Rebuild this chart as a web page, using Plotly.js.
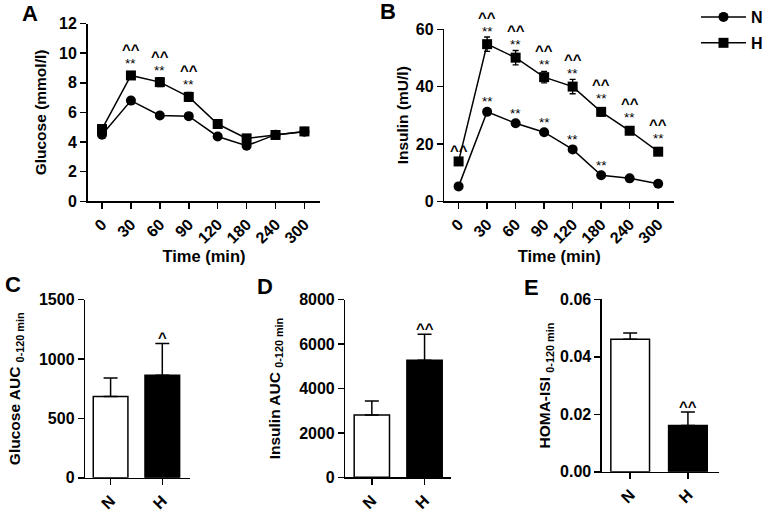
<!DOCTYPE html>
<html>
<head>
<meta charset="utf-8">
<script src="https://cdn.plot.ly/plotly-3.0.1.min.js"></script>
<style>html,body{margin:0;padding:0;background:#fff}#chart{width:768px;height:513px}</style>
</head>
<body>
<div id="chart"></div>
<script>
// ---- data ----
const times = ['0', '30', '60', '90', '120', '180', '240', '300'];
const glucoseN = [4.5, 6.8, 5.8, 5.75, 4.38, 3.75, 4.5, 4.7];
const glucoseH = [4.88, 8.5, 8.05, 7.05, 5.22, 4.25, 4.48, 4.72];
const glucoseNErr = [0.15, 0.2, 0.2, 0.2, 0.15, 0.15, 0.15, 0.15];
const glucoseHErr = [0.2, 0.25, 0.3, 0.3, 0.2, 0.2, 0.15, 0.15];
const insulinN = [5.2, 31.2, 27.2, 24.1, 18.1, 9.1, 8.0, 6.1];
const insulinH = [13.9, 54.8, 50.1, 43.3, 40.0, 31.2, 24.6, 17.3];
const insulinNErr = [0.6, 1, 1, 1, 1, 0.8, 0.6, 0.5];
const insulinHErr = [1.2, 2.5, 2.5, 2, 2.5, 1.5, 1, 1];
const glucoseStarsH = ['', '**', '**', '**', '', '', '', ''];
const glucoseCaretsH = ['', '^^', '^^', '^^', '', '', '', ''];
const insulinStarsN = ['', '**', '**', '**', '**', '**', '', ''];
const insulinStarsH = ['', '**', '**', '**', '**', '**', '**', '**'];
const insulinCaretsH = ['^^', '^^', '^^', '^^', '^^', '^^', '^^', '^^'];
const groups = ['N', 'H'];
const glucoseAUC = [684, 863];
const glucoseAUCErr = [157, 267];
const glucoseAUCMarks = ['', '^'];
const insulinAUC = [2813, 5272];
const insulinAUCErr = [630, 1168];
const insulinAUCMarks = ['', '^^'];
const homaISI = [0.0461, 0.0161];
const homaISIErr = [0.0022, 0.0047];
const homaISIMarks = ['', '^^'];

// ---- styling ----
const FONT = 'Liberation Sans, Arial, sans-serif';
const tickFont = {family: FONT, size: 16, color: '#000', weight: 'bold'};
const titleFont = {family: FONT, size: 15.5, color: '#000', weight: 'bold'};
const xTitleFont = {family: FONT, size: 16.5, color: '#000', weight: 'bold'};

function lineTrace(y, err, sym, name, xa, ya, legend, showleg) {
  return {
    type: 'scatter', mode: 'lines+markers', x: times, y: y, name: name,
    xaxis: xa, yaxis: ya, legend: legend, showlegend: showleg,
    line: {color: '#000', width: 1.5},
    marker: {symbol: sym, size: 10, color: '#000'},
    error_y: {type: 'data', array: err, visible: true, color: '#000', thickness: 1.3, width: 3},
    cliponaxis: false
  };
}
function barTrace(y, err, xa, ya) {
  return {
    type: 'bar', x: groups, y: y, xaxis: xa, yaxis: ya, showlegend: false, width: 0.67,
    marker: {color: ['#fff', '#000'], line: {color: '#000', width: 1.5}},
    error_y: {type: 'data', symmetric: false, array: err, arrayminus: [0, 0], visible: true,
              color: '#000', thickness: 1.5, width: 7}
  };
}

const traces = [
  lineTrace(glucoseN, glucoseNErr, 'circle', 'N', 'x', 'y', 'legend', false),
  lineTrace(glucoseH, glucoseHErr, 'square', 'H', 'x', 'y', 'legend2', false),
  lineTrace(insulinN, insulinNErr, 'circle', 'N', 'x2', 'y2', 'legend', true),
  lineTrace(insulinH, insulinHErr, 'square', 'H', 'x2', 'y2', 'legend2', true),
  barTrace(glucoseAUC, glucoseAUCErr, 'x3', 'y3'),
  barTrace(insulinAUC, insulinAUCErr, 'x4', 'y4'),
  barTrace(homaISI, homaISIErr, 'x5', 'y5')
];

function xAxis(domain, range, anchor, angle, title) {
  const a = {
    domain: domain, range: range, anchor: anchor, type: 'category',
    showline: true, linecolor: '#000', linewidth: 1.5, showgrid: false, zeroline: false,
    ticks: 'outside', ticklen: 6, tickwidth: 1.5, tickcolor: '#000',
    tickangle: angle, tickfont: tickFont, fixedrange: true
  };
  if (title) a.title = {text: title, font: xTitleFont, standoff: 4};
  return a;
}
function yAxis(domain, range, dtick, anchor, title, standoff, fmt) {
  const a = {
    domain: domain, range: range, dtick: dtick, tick0: 0, anchor: anchor,
    showline: true, linecolor: '#000', linewidth: 1.5, showgrid: false, zeroline: false,
    ticks: 'outside', ticklen: 6, tickwidth: 1.5, tickcolor: '#000',
    tickfont: tickFont, title: {text: title, font: titleFont, standoff: standoff}, fixedrange: true
  };
  if (fmt) a.tickformat = fmt;
  return a;
}

const annotations = [];
// x positions given as category index so numeric-looking labels are not misread
function marks(labels, ys, xref, yref, shift, size, bold) {
  labels.forEach((t, i) => {
    if (!t) return;
    annotations.push({
      text: t, x: i, y: ys[i], xref: xref, yref: yref, showarrow: false,
      yanchor: 'middle', yshift: typeof shift === 'function' ? shift(i) : shift,
      font: {family: FONT, size: size, color: '#000', weight: bold ? 'bold' : 'normal'}
    });
  });
}
marks(glucoseStarsH, glucoseH, 'x', 'y', 12, 13.5, false);
marks(glucoseCaretsH, glucoseH, 'x', 'y', 26, 15, true);
marks(insulinStarsN, insulinN, 'x2', 'y2', 10, 13.5, false);
marks(insulinStarsH, insulinH, 'x2', 'y2', 13, 13.5, false);
marks(insulinCaretsH, insulinH, 'x2', 'y2', i => insulinStarsH[i] ? 27 : 11, 15, true);
const aucTop = (v, e) => v.map((x, i) => x + e[i]);
marks(glucoseAUCMarks, aucTop(glucoseAUC, glucoseAUCErr), 'x3', 'y3', 6, 15, true);
marks(insulinAUCMarks, aucTop(insulinAUC, insulinAUCErr), 'x4', 'y4', 6, 15, true);
marks(homaISIMarks, aucTop(homaISI, homaISIErr), 'x5', 'y5', 6, 15, true);

// panel letters
[['A', 30, 13], ['B', 390, 11], ['C', 13, 284], ['D', 266, 286], ['E', 534, 287]].forEach(p => {
  annotations.push({text: p[0], x: p[1] / 768, y: 1 - p[2] / 513, xref: 'paper', yref: 'paper',
    showarrow: false, xanchor: 'center', yanchor: 'middle',
    font: {family: FONT, size: 22, color: '#000', weight: 'bold'}});
});

const legendBase = {
  xanchor: 'left', yanchor: 'middle', bgcolor: 'rgba(0,0,0,0)', borderwidth: 0,
  itemwidth: 45,
  font: {family: FONT, size: 16, color: '#000', weight: 'bold'}
};

const layout = {
  width: 768, height: 513, margin: {l: 0, r: 0, t: 0, b: 0},
  paper_bgcolor: '#fff', plot_bgcolor: '#fff', font: {family: FONT, color: '#000'},
  xaxis: xAxis([0.1146, 0.4193], [-0.5, 7.55], 'y', -45, 'Time (min)'),
  yaxis: yAxis([0.6088, 0.9558], [0, 12], 2, 'x', 'Glucose (mmol/l)', 8),
  xaxis2: xAxis([0.5816, 0.8824], [-0.5, 7.56], 'y2', -45, 'Time (min)'),
  yaxis2: yAxis([0.6088, 0.9448], [0, 60], 20, 'x2', 'Insulin (mU/l)', 3),
  xaxis3: xAxis([0.1116, 0.2483], [-0.49, 1.53], 'y3', -45),
  yaxis3: yAxis([0.0688, 0.4166], [0, 1500], 500, 'x3', 'Glucose AUC <sub>0-120 min</sub>', 14),
  xaxis4: xAxis([0.4522, 0.5902], [-0.5, 1.5], 'y4', -45),
  yaxis4: yAxis([0.0696, 0.4166], [0, 8000], 2000, 'x4', 'Insulin AUC <sub>0-120 min</sub>', 15),
  xaxis5: xAxis([0.7878, 0.9405], [-0.49, 1.53], 'y5', -45),
  yaxis5: yAxis([0.0805, 0.4172], [0, 0.06], 0.02, 'x5', 'HOMA-ISI <sub>0-120 min</sub>', 5, '.2f'),
  legend: Object.assign({x: 0.9115, y: 1 - 16 / 513}, legendBase),
  legend2: Object.assign({x: 0.9115, y: 1 - 42 / 513}, legendBase),
  annotations: annotations
};

Plotly.newPlot('chart', traces, layout, {displayModeBar: false, staticPlot: true});
</script>
</body>
</html>
